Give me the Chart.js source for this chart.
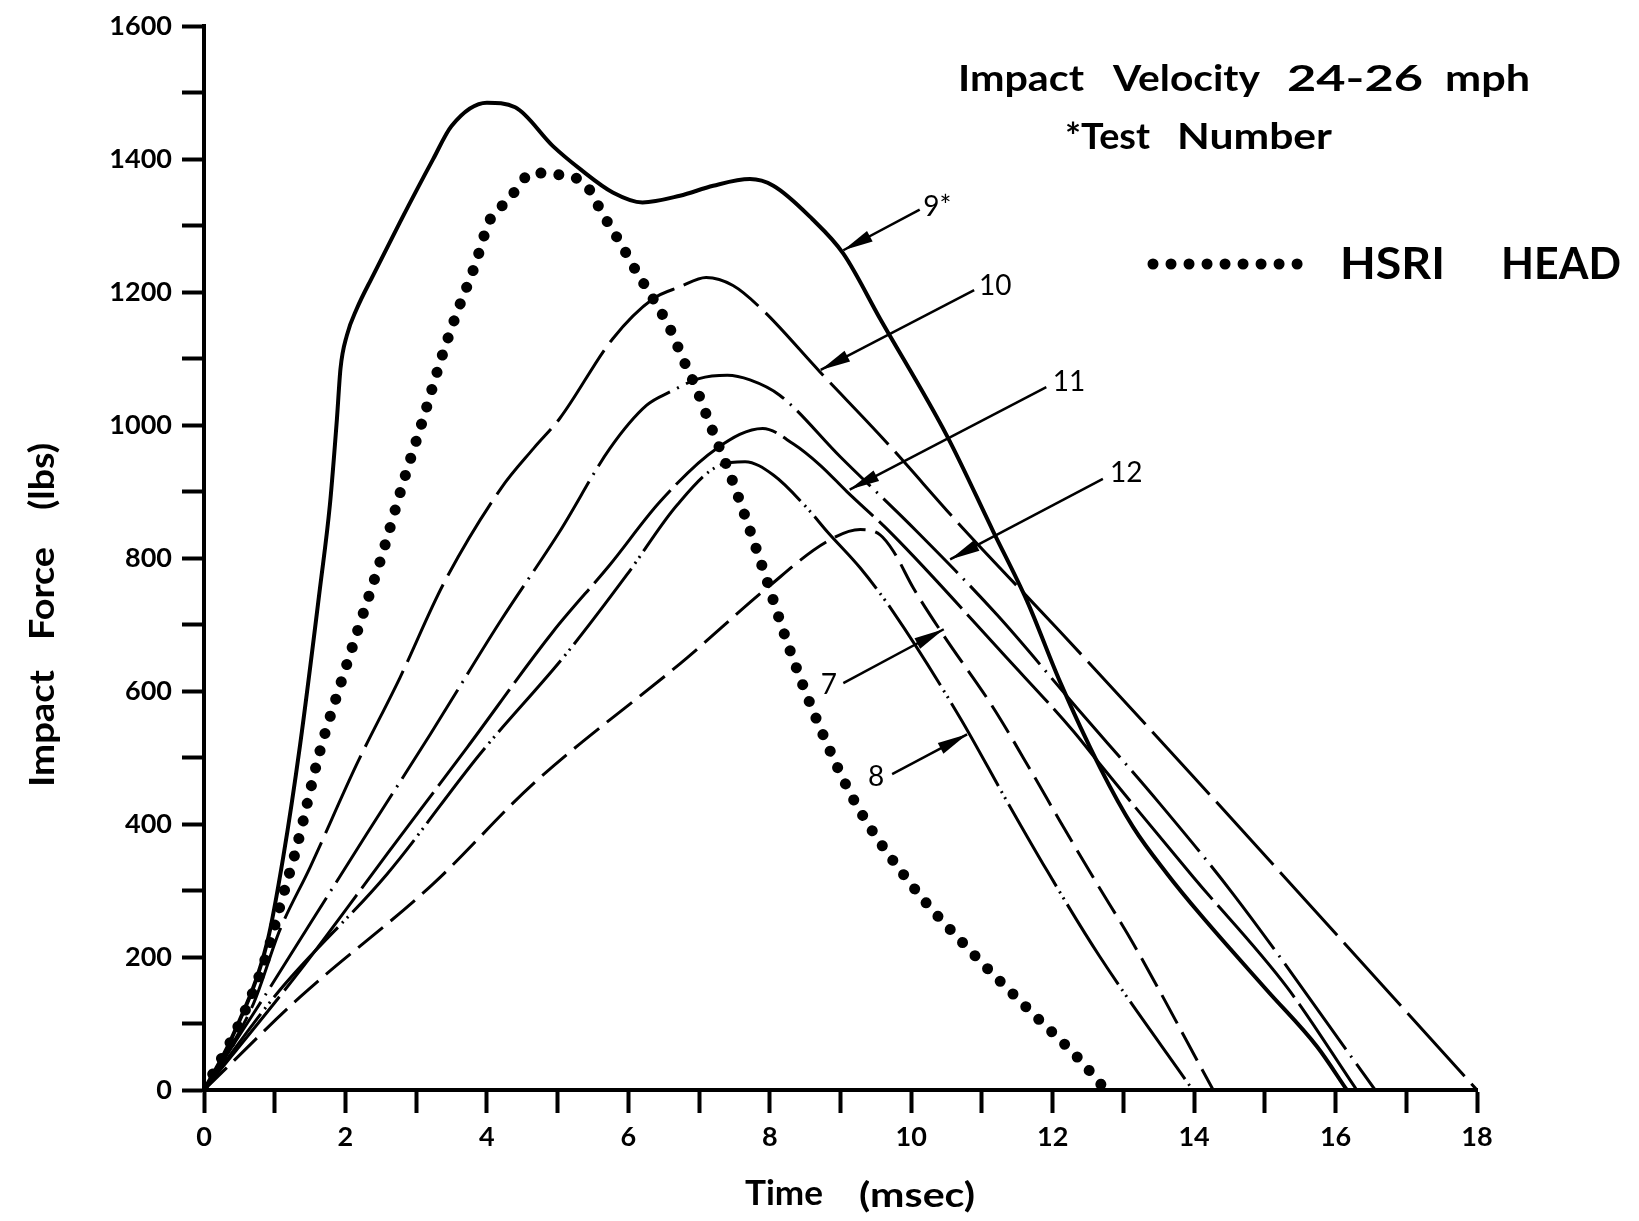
<!DOCTYPE html>
<html>
<head>
<meta charset="utf-8">
<script src="https://cdn.jsdelivr.net/npm/chart.js@4.4.0/dist/chart.umd.min.js"></script>
<style>
  html, body { margin: 0; padding: 0; background: #fff; }
  canvas { display: block; }
</style>
</head>
<body>
<canvas id="chart" width="1639" height="1221"></canvas>
<script>
// --- axis ranges / ticks ---
const timeMin = 0, timeMax = 18, timeStep = 1;
const forceMin = 0, forceMax = 1600, forceStep = 100;

// --- curves (time in msec, force in lbs) ---
const test9Time  = [0, 0.4, 0.9, 1.12, 1.36, 1.64, 1.78, 1.88, 1.93, 2.02, 2.16, 2.39, 2.77, 3.24, 3.5, 4.0, 4.4, 4.93, 5.32, 5.78, 6.2, 6.73, 7.2, 7.72, 8.05, 8.6, 9.04, 9.56, 10.5, 11.16, 11.64, 12.1, 12.67, 13.14, 13.62, 14.08, 15.03, 15.74, 16.16];
const test9Force = [0, 80, 225, 350, 520, 755, 880, 1010, 1085, 1135, 1175, 1225, 1305, 1400, 1450, 1485, 1478, 1420, 1385, 1350, 1335, 1345, 1360, 1370, 1360, 1310, 1258, 1160, 985, 840, 735, 615, 485, 395, 325, 265, 150, 65, 0];

const hsriTime  = [0, 0.5, 0.89, 1.07, 1.31, 1.64, 1.92, 2.2, 2.49, 2.82, 3.1, 3.36, 3.59, 3.83, 4.04, 4.19, 4.35, 4.5, 4.66, 4.92, 5.15, 5.41, 5.64, 5.88, 6.12, 6.35, 6.59, 6.77, 6.97, 7.13, 7.3, 7.46, 7.86, 8.29, 8.75, 9.22, 10.03, 10.83, 11.67, 12.36, 12.75];
const hsriForce = [0, 100, 205, 275, 365, 510, 607, 700, 795, 915, 1010, 1102, 1173, 1240, 1308, 1327, 1345, 1368, 1380, 1377, 1375, 1360, 1317, 1275, 1230, 1190, 1145, 1100, 1053, 1008, 963, 920, 798, 660, 535, 430, 305, 210, 120, 48, 0];

const test10Time  = [0, 0.7, 1.07, 1.5, 2.16, 2.77, 3.38, 4.2, 4.66, 5.03, 5.78, 6.35, 6.73, 7.1, 7.48, 7.9, 8.71, 9.6, 10.73, 12.1, 14.0, 18.0];
const test10Force = [0, 130, 240, 335, 490, 620, 760, 905, 965, 1010, 1130, 1190, 1208, 1222, 1210, 1173, 1080, 980, 845, 690, 470, 0];

const test11Time  = [0, 1.36, 2.59, 3.72, 4.94, 5.74, 6.45, 7.25, 7.9, 8.33, 8.71, 9.09, 9.74, 11.35, 12.29, 12.67, 13.99, 15.31, 16.3];
const test11Force = [0, 180, 355, 515, 690, 790, 885, 965, 995, 972, 940, 900, 835, 650, 540, 490, 320, 155, 0];

const test12Time  = [0, 0.7, 1.5, 2.3, 3.2, 4.19, 5.03, 5.74, 6.26, 6.59, 7.0, 7.4, 7.72, 8.14, 9.0, 10.08, 11.21, 12.34, 13.52, 14.55, 16.56];
const test12Force = [0, 115, 250, 385, 535, 705, 840, 965, 1030, 1050, 1070, 1075, 1068, 1045, 952, 840, 715, 575, 430, 295, 0];

const test8Time  = [0, 1.07, 2.59, 3.9, 5.13, 5.98, 6.69, 7.3, 7.65, 8.05, 8.53, 8.81, 9.28, 9.74, 10.69, 11.35, 11.92, 12.67, 13.98];
const test8Force = [0, 150, 325, 505, 657, 775, 880, 940, 945, 925, 875, 840, 785, 720, 560, 435, 330, 200, 0];

const test7Time  = [0, 1.36, 3.24, 4.65, 6.83, 7.96, 8.81, 9.28, 9.56, 9.75, 10.03, 10.45, 11.16, 11.72, 12.1, 12.6, 13.14, 14.27];
const test7Force = [0, 140, 310, 460, 650, 755, 825, 843, 835, 810, 755, 685, 575, 475, 405, 315, 220, 0];

// --- line styles ---
const series = [
  { label: 'HSRI HEAD', t: hsriTime,   f: hsriForce,   width: 11, dash: [0.01, 18], cap: 'round' },
  { label: '9',         t: test9Time,  f: test9Force,  width: 4,  dash: [] },
  { label: '10',        t: test10Time, f: test10Force, width: 3,  dash: [85, 10] },
  { label: '11',        t: test11Time, f: test11Force, width: 3,  dash: [120, 8] },
  { label: '12',        t: test12Time, f: test12Force, width: 3,  dash: [105, 8, 2, 8] },
  { label: '8',         t: test8Time,  f: test8Force,  width: 3,  dash: [95, 6, 2, 5, 2, 6] },
  { label: '7',         t: test7Time,  f: test7Force,  width: 3,  dash: [32, 10] }
];

// callouts: label and arrow, in data units
const callouts = [
  { text: '9*', lx: 10.17, ly: 1315, fx: 10.12, fy: 1324, tx: 9.04,  ty: 1263 },
  { text: '10', lx: 10.96, ly: 1195, fx: 10.89, fy: 1203, tx: 8.72,  ty: 1083 },
  { text: '11', lx: 12.0,  ly: 1051, fx: 11.91, fy: 1057, tx: 9.13,  ty: 903 },
  { text: '12', lx: 12.81, ly: 915,  fx: 12.71, fy: 919,  tx: 10.55, ty: 798 },
  { text: '7',  lx: 8.72,  ly: 595,  fx: 9.04,  fy: 612,  tx: 10.46, ty: 693 },
  { text: '8',  lx: 9.39,  ly: 457,  fx: 9.73,  fy: 475,  tx: 10.79, ty: 535 }
];

const FONT = 'Lato, "DejaVu Sans", sans-serif';

// draw a word stretched to span x1..x2
function spanText(ctx, text, x1, x2, y) {
  const w = ctx.measureText(text).width;
  ctx.save();
  ctx.translate(x1, y);
  ctx.scale((x2 - x1) / w, 1);
  ctx.fillText(text, 0, 0);
  ctx.restore();
}

function arrow(ctx, x1, y1, x2, y2) {
  ctx.beginPath();
  ctx.moveTo(x1, y1);
  ctx.lineTo(x2, y2);
  ctx.stroke();
  const a = Math.atan2(y2 - y1, x2 - x1);
  const L = 30, W = 6;
  ctx.beginPath();
  ctx.moveTo(x2, y2);
  ctx.lineTo(x2 - L * Math.cos(a) + W * Math.sin(a), y2 - L * Math.sin(a) - W * Math.cos(a));
  ctx.lineTo(x2 - L * Math.cos(a) - W * Math.sin(a), y2 - L * Math.sin(a) + W * Math.cos(a));
  ctx.closePath();
  ctx.fill();
}

const notesPlugin = {
  id: 'notes',
  afterDraw(chart) {
    const ctx = chart.ctx;
    const xs = chart.scales.x, ys = chart.scales.y;
    ctx.save();
    ctx.fillStyle = '#000';
    ctx.strokeStyle = '#000';
    ctx.textBaseline = 'alphabetic';
    ctx.textAlign = 'left';

    // callout arrows + numbers
    ctx.lineWidth = 2.5;
    ctx.font = '28px ' + FONT;
    callouts.forEach(c => {
      arrow(ctx, xs.getPixelForValue(c.fx), ys.getPixelForValue(c.fy),
                 xs.getPixelForValue(c.tx), ys.getPixelForValue(c.ty));
      ctx.fillText(c.text, xs.getPixelForValue(c.lx), ys.getPixelForValue(c.ly));
    });

    // heading
    ctx.font = 'bold 36px ' + FONT;
    spanText(ctx, 'Impact', 958, 1084, 91);
    spanText(ctx, 'Velocity', 1113, 1260, 91);
    spanText(ctx, '24-26', 1287, 1423, 91);
    spanText(ctx, 'mph', 1445, 1530, 91);
    spanText(ctx, '*Test', 1065, 1150, 149);
    spanText(ctx, 'Number', 1177, 1332, 149);

    // HSRI legend
    const hs = series[0];
    ctx.save();
    ctx.lineWidth = hs.width;
    ctx.lineCap = 'round';
    ctx.setLineDash(hs.dash);
    ctx.beginPath();
    ctx.moveTo(1153, 264);
    ctx.lineTo(1305, 264);
    ctx.stroke();
    ctx.restore();
    ctx.font = 'bold 43px ' + FONT;
    spanText(ctx, 'HSRI', 1340, 1445, 279);
    spanText(ctx, 'HEAD', 1501, 1621, 279);

    // axis titles
    ctx.font = 'bold 35px ' + FONT;
    spanText(ctx, 'Time', 745, 823, 1205);
    spanText(ctx, '(msec)', 859, 975, 1207);
    ctx.save();
    ctx.translate(54, 787);
    ctx.rotate(-Math.PI / 2);
    spanText(ctx, 'Impact', 0, 117, 0);
    spanText(ctx, 'Force', 147, 240, 0);
    spanText(ctx, '(lbs)', 277, 344, 0);
    ctx.restore();

    ctx.restore();
  }
};

const tickFont = { family: FONT, size: 27, weight: 'bold' };

new Chart(document.getElementById('chart'), {
  type: 'line',
  data: {
    datasets: series.map(s => ({
      label: s.label,
      data: s.t.map((t, i) => ({ x: t, y: s.f[i] })),
      borderColor: '#000',
      backgroundColor: '#000',
      borderWidth: s.width,
      borderDash: s.dash,
      borderCapStyle: s.cap || 'butt',
      pointRadius: 0,
      fill: false,
      cubicInterpolationMode: 'monotone'
    }))
  },
  options: {
    responsive: false,
    animation: false,
    devicePixelRatio: 1,
    layout: { padding: { top: 23, right: 162, bottom: 0, left: 0 } },
    plugins: {
      legend: { display: false },
      tooltip: { enabled: false },
      title: { display: false }
    },
    scales: {
      x: {
        type: 'linear',
        min: timeMin, max: timeMax,
        afterFit: axis => { axis.height = 131; },
        ticks: {
          stepSize: timeStep, autoSkip: false, maxRotation: 0, padding: 8,
          color: '#000', font: tickFont,
          callback: v => (v % 2 === 0 ? v : '')
        },
        grid: { drawOnChartArea: false, drawTicks: true, tickLength: 23, tickWidth: 4, tickColor: '#000' },
        border: { display: true, color: '#000', width: 4 }
      },
      y: {
        min: forceMin, max: forceMax,
        afterFit: axis => { axis.width = 204; },
        ticks: {
          stepSize: forceStep, autoSkip: false, padding: 10,
          color: '#000', font: tickFont,
          callback: v => (v % 200 === 0 ? v : '')
        },
        grid: { drawOnChartArea: false, drawTicks: true, tickLength: 22, tickWidth: 4, tickColor: '#000' },
        border: { display: true, color: '#000', width: 4 }
      }
    }
  },
  plugins: [notesPlugin]
});
</script>
</body>
</html>
